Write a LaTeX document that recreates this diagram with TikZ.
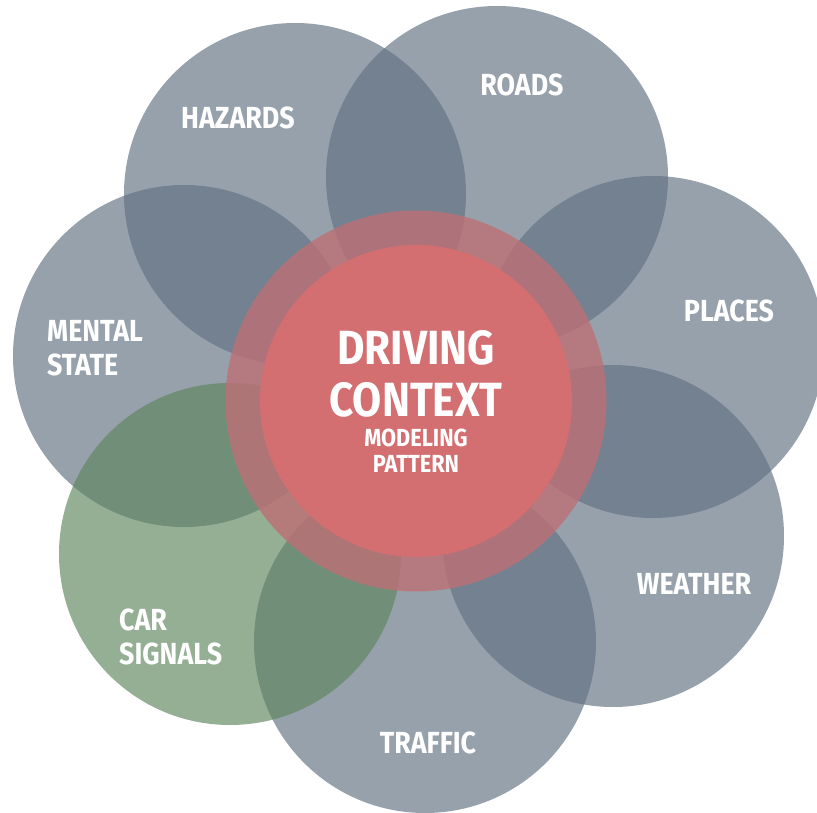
\documentclass[tikz,border=0pt]{standalone}
\usepackage{fontspec}
\setmainfont{Fira Sans}[FakeStretch=0.88]
\definecolor{petalgray}{RGB}{96,112,129}
\definecolor{petalgreen}{RGB}{94,133,94}
\definecolor{ringred}{RGB}{188,112,118}
\definecolor{corered}{RGB}{211,110,113}

\begin{document}
\begin{tikzpicture}[x=1pt,y=-1pt,
    petal/.style={circle,minimum size=342pt,inner sep=0pt,fill=petalgray,fill opacity=0.66},
    greenpetal/.style={petal,fill=petalgreen},
    tag/.style={text=white,font=\bfseries\fontsize{30.5}{34}\selectfont,inner sep=0pt}]
  \useasboundingbox (0,0) rectangle (817,813);
  \clip (0,0) rectangle (817,813);

  % outer petals, clockwise from the top left
  \node[petal] (hazards) at (295,194) {};
  \node[petal] (roads) at (497,177) {};
  \node[petal] (places) at (653,347) {};
  \node[petal] (weather) at (613,536) {};
  \node[petal] (traffic) at (425,642) {};
  \node[petal] (mental) at (184,356) {};
  \node[greenpetal] (signals) at (230,554) {};  % the one green petal

  % centre: translucent ring, solid core
  \node[circle,minimum size=381pt,fill=ringred,fill opacity=0.82] (ring) at (416,401) {};
  \node[circle,minimum size=312pt,fill=corered] (core) at (ring.center) {};

  % petal labels
  \node[tag] (hazards-label) at (238,118) {HAZARDS};
  \node[tag] (roads-label) at (522,85) {ROADS};
  \node[tag] (places-label) at (729,311) {PLACES};
  \node[tag] (weather-label) at (694,584) {WEATHER};
  \node[tag] (traffic-label) at (428,743) {TRAFFIC};
  \node[tag,anchor=west,align=left] (mental-label) at (47,348) {MENTAL\\STATE};
  \node[tag,anchor=west,align=left] (signals-label) at (119,637) {CAR\\SIGNALS};

  % centre text
  \node[tag,align=center,font=\bfseries\fontsize{48}{52}\selectfont] (title) at (416,374) {DRIVING\\CONTEXT};
  \node[tag,align=center,font=\bfseries\fontsize{24.7}{26}\selectfont] (subtitle) at (416,451) {MODELING\\PATTERN};
\end{tikzpicture}
\end{document}
